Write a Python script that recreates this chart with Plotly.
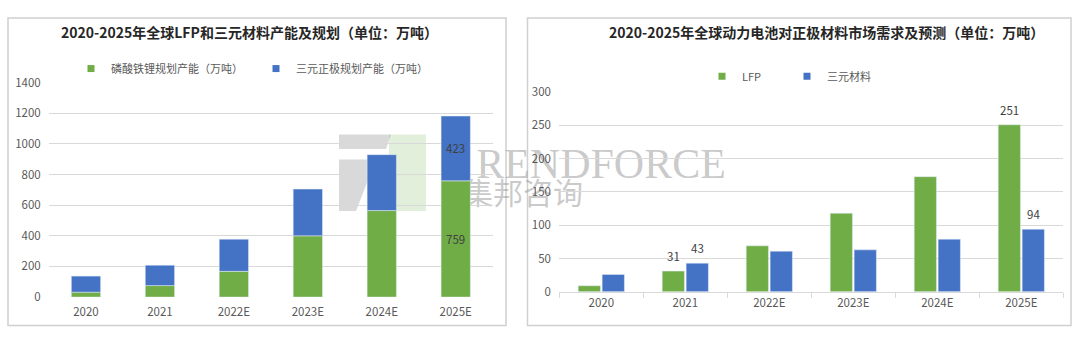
import plotly.graph_objects as go

# ---------------- data ----------------
years = ["2020", "2021", "2022E", "2023E", "2024E", "2025E"]

# left chart: planned capacity (万吨), stacked
lfp_capacity = [32, 75, 168, 400, 565, 759]
ncm_capacity = [105, 133, 210, 305, 365, 423]
left_label_idx = [5]

# right chart: demand (万吨), grouped
lfp_demand = [9, 31, 69, 118, 173, 251]
ncm_demand = [26, 43, 61, 63, 79, 94]
right_label_idx = [1, 5]

left_title = "2020-2025年全球LFP和三元材料产能及规划（单位：万吨）"
right_title = "2020-2025年全球动力电池对正极材料市场需求及预测（单位：万吨）"
left_names = ["磷酸铁锂规划产能（万吨）", "三元正极规划产能（万吨）"]
right_names = ["LFP", "三元材料"]
left_yticks = [0, 200, 400, 600, 800, 1000, 1200, 1400]
right_yticks = [0, 50, 100, 150, 200, 250, 300]

# ---------------- style ----------------
W, H = 1080, 340
GREEN = "#70ad47"
BLUE = "#4472c4"
GRID = "#d9d9d9"
TICK = "#595959"
LABEL = "#404040"
FONT = "Noto Sans CJK SC"


def px(x):
    return x / W


def py(y):
    return 1 - y / H


fig = go.Figure()

# left stacked bars
fig.add_trace(go.Bar(x=years, y=lfp_capacity, marker_color=GREEN, width=0.396, offset=-0.198,
                     xaxis="x", yaxis="y", showlegend=False, hoverinfo="skip"))
fig.add_trace(go.Bar(x=years, y=ncm_capacity, base=lfp_capacity, marker_color=BLUE, width=0.396,
                     offset=-0.198, xaxis="x", yaxis="y", showlegend=False, hoverinfo="skip"))
# right grouped bars
fig.add_trace(go.Bar(x=years, y=lfp_demand, marker_color=GREEN, width=0.265, offset=-0.275,
                     xaxis="x2", yaxis="y2", showlegend=False, hoverinfo="skip"))
fig.add_trace(go.Bar(x=years, y=ncm_demand, marker_color=BLUE, width=0.265, offset=0.01,
                     xaxis="x2", yaxis="y2", showlegend=False, hoverinfo="skip"))

# legend entries (small square swatches); kept on the left axes, shown in two legends
for name, col in zip(left_names, [GREEN, BLUE]):
    fig.add_trace(go.Scatter(x=[None], y=[None], mode="markers", name=name,
                             marker=dict(symbol="square", size=7, color=col),
                             xaxis="x", yaxis="y", legend="legend", hoverinfo="skip"))
for name, col in zip(right_names, [GREEN, BLUE]):
    fig.add_trace(go.Scatter(x=[None], y=[None], mode="markers", name=name,
                             marker=dict(symbol="square", size=7, color=col),
                             xaxis="x", yaxis="y", legend="legend2", hoverinfo="skip"))

annotations = []
# titles
annotations.append(dict(text=left_title, x=px(249.5), y=py(24), xref="paper", yref="paper",
                        showarrow=False, xanchor="center", yanchor="middle",
                        font=dict(family=FONT, size=14, color="#262626", weight="bold")))
annotations.append(dict(text=right_title, x=px(826.5), y=py(24), xref="paper", yref="paper",
                        showarrow=False, xanchor="center", yanchor="middle",
                        font=dict(family=FONT, size=14, color="#262626", weight="bold")))
# left inside labels (x given as category serial number)
for i in left_label_idx:
    annotations.append(dict(text=str(lfp_capacity[i]), x=i, y=lfp_capacity[i] / 2,
                            xref="x", yref="y", showarrow=False,
                            font=dict(family=FONT, size=11.5, color=LABEL)))
    annotations.append(dict(text=str(ncm_capacity[i]), x=i,
                            y=lfp_capacity[i] + ncm_capacity[i] / 2,
                            xref="x", yref="y", showarrow=False,
                            font=dict(family=FONT, size=11.5, color=LABEL)))
# right outside labels
for i in right_label_idx:
    annotations.append(dict(text=str(lfp_demand[i]), x=i, y=lfp_demand[i],
                            xref="x2", yref="y2", showarrow=False, yanchor="bottom",
                            yshift=5, xshift=-12,
                            font=dict(family=FONT, size=11.5, color=LABEL)))
    annotations.append(dict(text=str(ncm_demand[i]), x=i, y=ncm_demand[i],
                            xref="x2", yref="y2", showarrow=False, yanchor="bottom",
                            yshift=5, xshift=12,
                            font=dict(family=FONT, size=11.5, color=LABEL)))

shapes = []
# panel frames
for x0, x1 in [(8, 506), (527.5, 1071)]:
    shapes.append(dict(type="rect", xref="paper", yref="paper", x0=px(x0), x1=px(x1),
                       y0=py(332), y1=py(9.5), line=dict(color="#d0d0d0", width=1.5),
                       fillcolor="rgba(0,0,0,0)", layer="below"))
# watermark (logo + text), drawn beneath the bars
shapes.append(dict(type="path", xref="paper", yref="paper", layer="below",
                   path=f"M{px(339)},{py(131.7)} L{px(391)},{py(131.7)} L{px(386)},{py(147)} "
                        f"L{px(339)},{py(147)} Z",
                   fillcolor="rgba(180,180,180,0.5)", line=dict(width=0)))
shapes.append(dict(type="path", xref="paper", yref="paper", layer="below",
                   path=f"M{px(339)},{py(158)} L{px(376)},{py(158)} L{px(356)},{py(212)} "
                        f"L{px(339)},{py(212)} Z",
                   fillcolor="rgba(180,180,180,0.5)", line=dict(width=0)))
shapes.append(dict(type="rect", xref="paper", yref="paper", layer="below",
                   x0=px(389), x1=px(426), y0=py(212), y1=py(131.7),
                   fillcolor="rgba(112,173,71,0.2)", line=dict(width=0)))
shapes.append(dict(type="rect", xref="paper", yref="paper", layer="below",
                   x0=px(470), x1=px(732), y0=py(178), y1=py(136),
                   fillcolor="rgba(0,0,0,0)", line=dict(width=0),
                   label=dict(text="RENDFORCE", textposition="middle center",
                              font=dict(family="Liberation Serif", size=42,
                                        color="rgba(150,150,150,0.5)"))))
shapes.append(dict(type="rect", xref="paper", yref="paper", layer="below",
                   x0=px(462), x1=px(584), y0=py(214), y1=py(178),
                   fillcolor="rgba(0,0,0,0)", line=dict(width=0),
                   label=dict(text="集邦咨询", textposition="middle center",
                              font=dict(family=FONT, size=30,
                                        color="rgba(150,150,150,0.5)"))))

tickfont = dict(family=FONT, size=11.5, color=TICK)

fig.update_layout(
    width=W, height=H,
    margin=dict(l=0, r=0, t=0, b=0),
    paper_bgcolor="white", plot_bgcolor="rgba(0,0,0,0)",
    barmode="overlay",
    font=dict(family=FONT, size=11.5, color=TICK),
    xaxis=dict(domain=[px(49), px(492.7)], type="category", categoryorder="array",
               categoryarray=years, range=[-0.5, 5.5], autorange=False,
               showgrid=False, zeroline=False, showline=False,
               ticks="outside", ticklen=4, tickcolor="rgba(0,0,0,0)",
               tickfont=tickfont, anchor="y"),
    yaxis=dict(domain=[py(302.3), py(77.3)], range=[0, 1400], autorange=False,
               tickvals=left_yticks,
               showgrid=True, gridcolor=GRID, gridwidth=1, zeroline=False, showline=False,
               ticks="outside", ticklen=5, tickcolor="rgba(0,0,0,0)", tickfont=tickfont,
               anchor="x"),
    xaxis2=dict(domain=[px(559.3), px(1063.3)], type="category", categoryorder="array",
                categoryarray=years, range=[-0.5, 5.5], autorange=False,
                showgrid=False, zeroline=False,
                showline=True, linecolor=GRID, linewidth=1, ticks="outside",
                tickson="boundaries", ticklen=5, tickcolor=GRID, tickfont=tickfont,
                anchor="y2"),
    yaxis2=dict(domain=[py(296.7), py(87.3)], range=[0, 300], autorange=False,
                tickvals=right_yticks,
                showgrid=True, gridcolor=GRID, gridwidth=1, zeroline=False, showline=False,
                ticks="outside", ticklen=5, tickcolor="rgba(0,0,0,0)", tickfont=tickfont,
                anchor="x2"),
    legend=dict(orientation="h", x=px(71), y=py(62.5), xanchor="left", yanchor="middle",
                font=dict(family=FONT, size=11, color=TICK), bgcolor="rgba(0,0,0,0)",
                entrywidth=140, itemclick=False, itemdoubleclick=False),
    legend2=dict(orientation="h", x=px(702), y=py(70.7), xanchor="left", yanchor="middle",
                 font=dict(family=FONT, size=11, color=TICK), bgcolor="rgba(0,0,0,0)",
                 entrywidth=40, itemclick=False, itemdoubleclick=False),
    annotations=annotations,
    shapes=shapes,
    showlegend=True,
)

fig.write_html("out.html")
